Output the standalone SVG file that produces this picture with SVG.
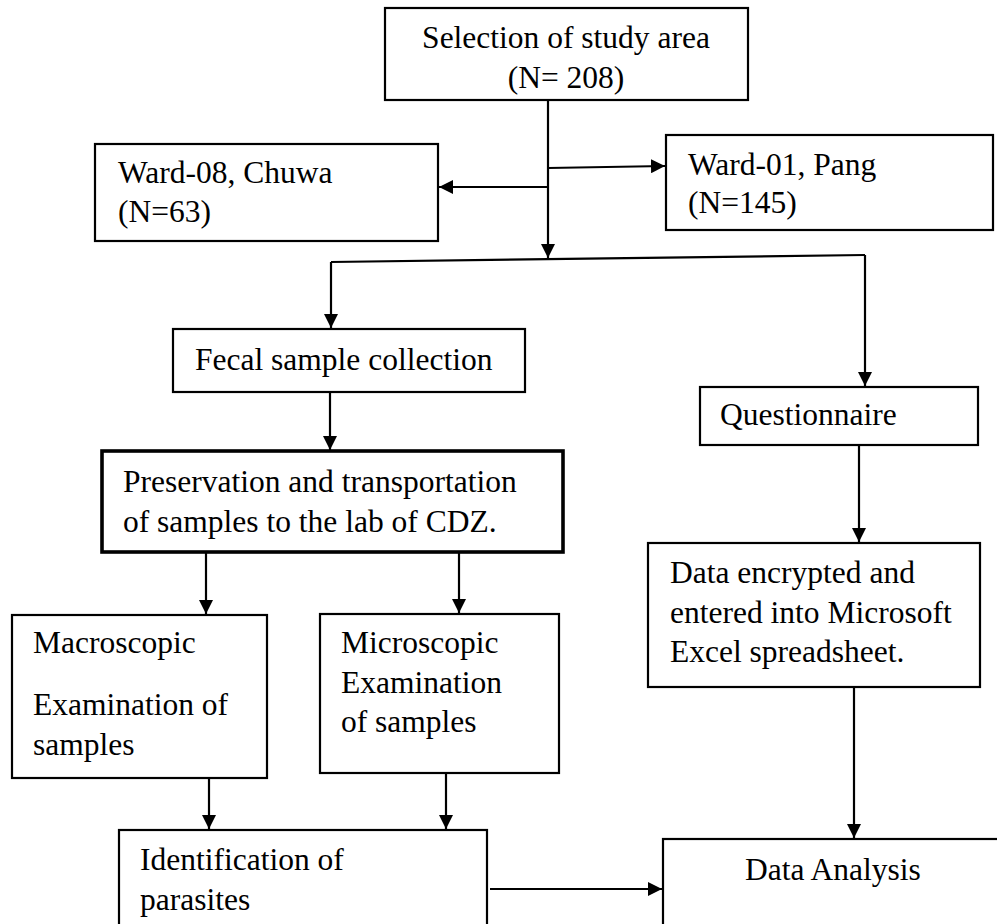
<svg xmlns="http://www.w3.org/2000/svg" width="997" height="924" viewBox="0 0 997 924">
<defs>
<style>
.box{fill:#fff;stroke:#000;stroke-width:2.2}
.thick{stroke-width:3.6}
.t{font-family:"Liberation Serif","Times New Roman",serif;font-size:31.5px;fill:#000}
.c{text-anchor:middle}
.ln{fill:none;stroke:#000;stroke-width:2.2}
.ar{marker-end:url(#ah)}
</style>
<marker id="ah" markerUnits="userSpaceOnUse" markerWidth="14" markerHeight="14" refX="14" refY="7" orient="auto">
<path d="M0,0 L14,7 L0,14 z" fill="#000"/>
</marker>
</defs>
<rect width="997" height="924" fill="#fff"/>
<g id="connectors">
<path class="ln ar" d="M548,100 V258"/>
<path class="ln ar" d="M548,187 H439"/>
<path class="ln ar" d="M548,168 L665,166"/>
<path class="ln" d="M331,262 L865,255"/>
<path class="ln ar" d="M331,262 V328"/>
<path class="ln ar" d="M865,255 V386"/>
<path class="ln ar" d="M330,392 V450"/>
<path class="ln ar" d="M206,553 V614"/>
<path class="ln ar" d="M459,553 V613"/>
<path class="ln ar" d="M859,445 V542"/>
<path class="ln ar" d="M209,778 V829"/>
<path class="ln ar" d="M446,773 V829"/>
<path class="ln ar" d="M854,687 V838"/>
<path class="ln ar" d="M490,889 H662"/>
</g>
<g id="selection">
<rect class="box" x="385" y="8" width="363" height="92"/>
<text class="t c" x="566" y="48">Selection of study area</text>
<text class="t c" x="566" y="88">(N= 208)</text>
</g>
<g id="ward08">
<rect class="box" x="95" y="144" width="343" height="97"/>
<text class="t" x="118" y="183">Ward-08, Chuwa</text>
<text class="t" x="118" y="222">(N=63)</text>
</g>
<g id="ward01">
<rect class="box" x="666" y="135" width="327" height="95"/>
<text class="t" x="688" y="175">Ward-01, Pang</text>
<text class="t" x="688" y="213">(N=145)</text>
</g>
<g id="fecal">
<rect class="box" x="173" y="329" width="352" height="63"/>
<text class="t" x="195" y="370">Fecal sample collection</text>
</g>
<g id="questionnaire">
<rect class="box" x="700" y="387" width="278" height="58"/>
<text class="t" x="720" y="425">Questionnaire</text>
</g>
<g id="preservation">
<rect class="box thick" x="102" y="451" width="461" height="101"/>
<text class="t" x="123" y="492">Preservation and transportation</text>
<text class="t" x="123" y="532">of samples to the lab of CDZ.</text>
</g>
<g id="dataentry">
<rect class="box" x="648" y="543" width="332" height="144"/>
<text class="t" x="670" y="583">Data encrypted and</text>
<text class="t" x="670" y="623">entered into Microsoft</text>
<text class="t" x="670" y="662">Excel spreadsheet.</text>
</g>
<g id="macroscopic">
<rect class="box" x="12" y="615" width="255" height="163"/>
<text class="t" x="33" y="653">Macroscopic</text>
<text class="t" x="33" y="715">Examination of</text>
<text class="t" x="33" y="755">samples</text>
</g>
<g id="microscopic">
<rect class="box" x="320" y="614" width="239" height="159"/>
<text class="t" x="341" y="653">Microscopic</text>
<text class="t" x="341" y="693">Examination</text>
<text class="t" x="341" y="732">of samples</text>
</g>
<g id="identification">
<rect class="box" x="119" y="830" width="368" height="110"/>
<text class="t" x="140" y="870">Identification of</text>
<text class="t" x="140" y="910">parasites</text>
</g>
<g id="analysis">
<rect class="box" x="663" y="839" width="350" height="100"/>
<text class="t" x="745" y="880">Data Analysis</text>
</g>
</svg>
